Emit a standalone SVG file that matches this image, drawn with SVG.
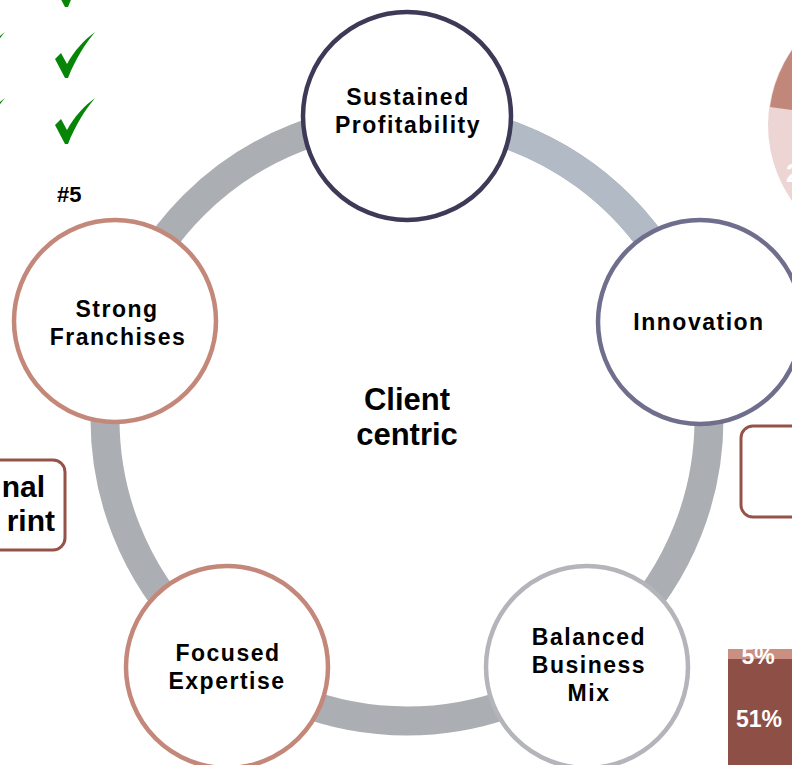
<svg xmlns="http://www.w3.org/2000/svg" width="792" height="765" viewBox="0 0 792 765">
<style>
  .t{font-family:"Liberation Sans",Arial,sans-serif;font-weight:bold;fill:#000;text-anchor:middle}
  .n{font-size:23px;letter-spacing:1.5px}
  .node{fill:#fff;stroke-width:4.5}
  .w{font-family:"Liberation Sans",Arial,sans-serif;font-weight:bold;fill:#fff}
</style>
<defs>
  <path id="chk" d="M0,27 L6,21 L12,32 C19,19 29,8 40,0 C30,12 20,28 13,46 L10,46 Z" fill="#078507"/>
</defs>
<rect width="792" height="765" fill="#fff"/>

<!-- background partial elements -->
<g id="checks">
  <use href="#chk" transform="translate(55,-39)"/>
  <use href="#chk" transform="translate(55,32)"/>
  <use href="#chk" transform="translate(55,98)"/>
  <use href="#chk" transform="translate(-35,32)"/>
  <use href="#chk" transform="translate(-35,98)"/>
  <text x="57" y="202" font-family="Liberation Sans,Arial,sans-serif" font-weight="bold" font-size="22">#5</text>
</g>
<g id="pie">
  <circle cx="900" cy="125" r="132" fill="#ecd5d2"/>
  <path d="M900,125 L770,107 A132,132 0 0 1 900,-7 Z" fill="#c0877a"/>
  <text class="w" x="786" y="182" font-size="26">2</text>
</g>
<g id="leftbox">
  <rect x="-60" y="460" width="125" height="90" rx="12" fill="#fff" stroke="#955348" stroke-width="3"/>
  <text x="45" y="497" font-family="Liberation Sans,Arial,sans-serif" font-weight="bold" font-size="30" text-anchor="end">nal</text>
  <text x="55" y="531" font-family="Liberation Sans,Arial,sans-serif" font-weight="bold" font-size="30" text-anchor="end">rint</text>
</g>
<g id="rightbox">
  <rect x="741" y="426" width="120" height="91" rx="12" fill="#fff" stroke="#955348" stroke-width="3"/>
</g>
<g id="bar">
  <rect x="728" y="649" width="80" height="12" fill="#c98f80"/>
  <rect x="728" y="659" width="80" height="110" fill="#8e5046"/>
  <text class="w" x="758" y="664" font-size="23" text-anchor="middle">5%</text>
  <text class="w" x="759" y="727" font-size="23" text-anchor="middle">51%</text>
</g>

<!-- connectors: ring -->
<g id="connectors" fill="none" stroke-width="29">
  <circle cx="407" cy="419" r="302" stroke="#abaeb2"/>
  <path d="M407,117 A302,302 0 0 1 694,326" stroke="#b2bac6"/>
</g>

<text class="t" x="407" y="410" font-size="31">Client</text>
<text class="t" x="407" y="445" font-size="31">centric</text>

<g id="sustained">
  <circle class="node" cx="407" cy="116" r="104" stroke="#3d3a58"/>
  <text class="t n" x="408" y="105">Sustained</text>
  <text class="t n" x="408" y="133">Profitability</text>
</g>
<g id="innovation">
  <circle class="node" cx="700" cy="322" r="102" stroke="#6f6e8c"/>
  <text class="t n" x="699" y="330">Innovation</text>
</g>
<g id="franchises">
  <circle class="node" cx="115" cy="321" r="101" stroke="#c4887a"/>
  <text class="t n" x="117" y="317">Strong</text>
  <text class="t n" x="118" y="345">Franchises</text>
</g>
<g id="expertise">
  <circle class="node" cx="227" cy="667" r="101" stroke="#c4887a"/>
  <text class="t n" x="228" y="661">Focused</text>
  <text class="t n" x="227" y="689">Expertise</text>
</g>
<g id="mix">
  <circle class="node" cx="587" cy="667" r="101" stroke="#b3b5ba"/>
  <text class="t n" x="589" y="645">Balanced</text>
  <text class="t n" x="589" y="673">Business</text>
  <text class="t n" x="589" y="701">Mix</text>
</g>
</svg>
